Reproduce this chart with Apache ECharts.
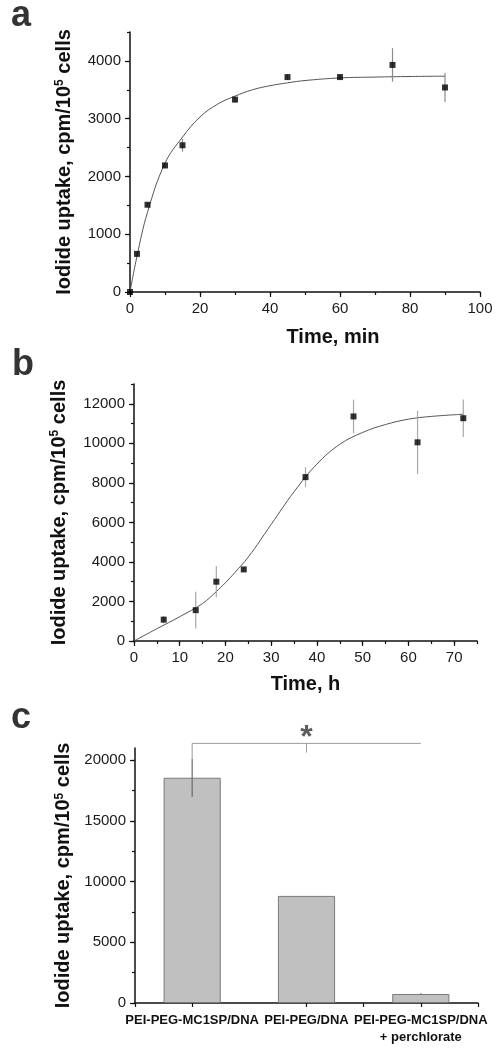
<!DOCTYPE html>
<html>
<head>
<meta charset="utf-8">
<script src="https://cdn.jsdelivr.net/npm/echarts@6/dist/echarts.min.js"></script>
<style>
html,body{margin:0;padding:0;background:#fff;}
#chart{width:503px;height:1049px;}
</style>
</head>
<body>
<div id="chart"></div>
<script>
// ---------- Panel a ----------
const aTime = [0, 2, 5, 10, 15, 30, 45, 60, 75, 90];
const aUptake = [0, 660, 1510, 2190, 2540, 3330, 3720, 3720, 3930, 3540];
const aErr = [0, 40, 40, 50, 110, 50, 40, 40, 290, 250];
const aFitTime = [0, 2, 5, 10, 15, 20, 25, 30, 35, 40, 45, 50, 60, 70, 80, 90];
const aFitUptake = [0, 620, 1380, 2230, 2680, 3030, 3250, 3390, 3500, 3570, 3620, 3660, 3705, 3720, 3730, 3735];
const aXTicks = [0, 20, 40, 60, 80, 100];
const aXMinor = [0, 10, 20, 30, 40, 50, 60, 70, 80, 90, 100];
const aYTicks = [0, 1000, 2000, 3000, 4000];
const aYMinor = [0, 500, 1000, 1500, 2000, 2500, 3000, 3500, 4000, 4500];

// ---------- Panel b ----------
const bTime = [6.5, 13.5, 18, 24, 37.5, 48, 62, 72];
const bUptake = [1080, 1560, 3000, 3620, 8290, 11360, 10050, 11270];
const bErr = [180, 930, 790, 100, 500, 850, 1600, 950];
const bFitTime = [0, 5, 10, 15, 18, 20, 22, 25, 30, 35, 40, 45, 50, 55, 60, 65, 72];
const bFitUptake = [0, 620, 1230, 1900, 2500, 2950, 3450, 4250, 5900, 7550, 8950, 9950, 10550, 10950, 11220, 11360, 11470];
const bXTicks = [0, 10, 20, 30, 40, 50, 60, 70];
const bXMinor = [0, 5, 10, 15, 20, 25, 30, 35, 40, 45, 50, 55, 60, 65, 70, 75];
const bYTicks = [0, 2000, 4000, 6000, 8000, 10000, 12000];
const bYMinor = [0, 1000, 2000, 3000, 4000, 5000, 6000, 7000, 8000, 9000, 10000, 11000, 12000, 13000];

// ---------- Panel c ----------
const cCategories = ['PEI-PEG-MC1SP/DNA', 'PEI-PEG/DNA', 'PEI-PEG-MC1SP/DNA\n+ perchlorate'];
const cUptake = [18550, 8820, 740];
const cErr = [1560, 0, 60];
const cYTicks = [0, 5000, 10000, 15000, 20000];
const cYMinor = [0, 2500, 5000, 7500, 10000, 12500, 15000, 17500, 20000];
const cBracketLevel = 21380;   // significance bracket height
const cBracketMidTick = 20620; // lower end of middle tick
const cStarLevel = 21800;      // asterisk position

const FONT = '"Liberation Sans", Arial, Helvetica, sans-serif';
const yName = 'Iodide uptake, cpm/10{sup|5} cells';
const nameStyle = {
  fontSize: 20, fontWeight: 'bold', color: '#111', fontFamily: FONT,
  rich: { sup: { fontSize: 12, fontWeight: 'bold', color: '#111', fontFamily: FONT, verticalAlign: 'top', lineHeight: 12 } }
};
const lineStyleAxis = { color: '#111', width: 1.5 };
const tickLabel = { fontSize: 15, color: '#1a1a1a', fontFamily: FONT };
const plain = v => String(v);

function mainValueAxis(gridIndex, pos, max, ticks, extra) {
  return Object.assign({
    type: 'value', gridIndex, position: pos, min: 0, max: max,
    axisLine: { show: true, onZero: false, lineStyle: lineStyleAxis },
    axisTick: { show: true, inside: false, length: 5, customValues: ticks, lineStyle: { color: '#111', width: 1.2 } },
    axisLabel: Object.assign({ show: true, customValues: ticks, margin: 9, formatter: plain }, tickLabel),
    splitLine: { show: false }, minorTick: { show: false }
  }, extra || {});
}
function minorValueAxis(gridIndex, pos, max, ticks) {
  return {
    type: 'value', gridIndex, position: pos, min: 0, max: max,
    axisLine: { show: false },
    axisTick: { show: true, inside: false, length: 3, customValues: ticks, lineStyle: { color: '#111', width: 1.2 } },
    axisLabel: { show: false }, splitLine: { show: false }
  };
}
function errorRender(color) {
  return function (params, api) {
    const x = api.value(0), y = api.value(1), e = api.value(2);
    if (!e) return null;
    const p1 = api.coord([x, y - e]);
    const p2 = api.coord([x, y + e]);
    return { type: 'line', shape: { x1: p1[0], y1: p1[1], x2: p2[0], y2: p2[1] }, style: { stroke: color, lineWidth: 1.2 } };
  };
}

const chart = echarts.init(document.getElementById('chart'), null, { renderer: 'canvas' });
const option = {
  backgroundColor: '#fff',
  animation: false,
  graphic: [
    { type: 'text', left: 11, top: -2, style: { text: 'a', font: 'bold 36px ' + FONT, fill: '#333' } },
    { type: 'text', left: 12, top: 347, style: { text: 'b', font: 'bold 36px ' + FONT, fill: '#333' } },
    { type: 'text', left: 11, top: 700, style: { text: 'c', font: 'bold 36px ' + FONT, fill: '#333' } }
  ],
  grid: [
    { left: 130, top: 32, width: 350, height: 260 },
    { left: 134, top: 384, width: 343, height: 257 },
    { left: 135, top: 748, width: 343, height: 255 }
  ],
  xAxis: [
    mainValueAxis(0, 'bottom', 100, aXTicks, { name: 'Time, min', nameLocation: 'middle', nameGap: 35,
      nameTextStyle: { fontSize: 20, fontWeight: 'bold', color: '#111', fontFamily: FONT, padding: [0, 0, 0, 56] } }),
    minorValueAxis(0, 'bottom', 100, aXMinor),
    mainValueAxis(1, 'bottom', 75, bXTicks, { name: 'Time, h', nameLocation: 'middle', nameGap: 33,
      nameTextStyle: { fontSize: 20, fontWeight: 'bold', color: '#111', fontFamily: FONT } }),
    minorValueAxis(1, 'bottom', 75, bXMinor),
    {
      type: 'category', gridIndex: 2, position: 'bottom', data: cCategories,
      axisLine: { show: true, onZero: false, lineStyle: lineStyleAxis },
      axisTick: { show: true, alignWithLabel: true, length: 4, lineStyle: { color: '#111', width: 1.2 } },
      axisLabel: { show: true, interval: 0, margin: 9, fontSize: 13, fontWeight: 'bold', color: '#111', fontFamily: FONT, lineHeight: 17 },
      splitLine: { show: false }
    },
    {
      type: 'category', gridIndex: 2, position: 'bottom', data: cCategories,
      axisLine: { show: false },
      axisTick: { show: true, length: 4, lineStyle: { color: '#111', width: 1.2 } },
      axisLabel: { show: false }, splitLine: { show: false }
    }
  ],
  yAxis: [
    mainValueAxis(0, 'left', 4500, aYTicks, { name: yName, nameLocation: 'middle', nameGap: 56, nameTextStyle: nameStyle }),
    minorValueAxis(0, 'left', 4500, aYMinor),
    mainValueAxis(1, 'left', 13000, bYTicks, { name: yName, nameLocation: 'middle', nameGap: 65, nameTextStyle: nameStyle }),
    minorValueAxis(1, 'left', 13000, bYMinor),
    mainValueAxis(2, 'left', 21000, cYTicks, { name: yName, nameLocation: 'middle', nameGap: 59, nameTextStyle: nameStyle }),
    minorValueAxis(2, 'left', 21000, cYMinor)
  ],
  series: [
    // Panel a
    { type: 'line', xAxisIndex: 0, yAxisIndex: 0, data: aFitTime.map((t, i) => [t, aFitUptake[i]]),
      smooth: 0.4, symbol: 'none', lineStyle: { color: '#555', width: 1 }, z: 2 },
    { type: 'custom', xAxisIndex: 0, yAxisIndex: 0, renderItem: errorRender('#8a8a8a'),
      data: aTime.map((t, i) => [t, aUptake[i], aErr[i]]), encode: { x: 0, y: 1 }, z: 3 },
    { type: 'scatter', xAxisIndex: 0, yAxisIndex: 0, data: aTime.map((t, i) => [t, aUptake[i]]),
      symbol: 'rect', symbolSize: 6, itemStyle: { color: '#000' }, z: 4, clip: false },
    // Panel b
    { type: 'line', xAxisIndex: 2, yAxisIndex: 2, data: bFitTime.map((t, i) => [t, bFitUptake[i]]),
      smooth: 0.4, symbol: 'none', lineStyle: { color: '#555', width: 1 }, z: 2 },
    { type: 'custom', xAxisIndex: 2, yAxisIndex: 2, renderItem: errorRender('#a8a8a8'),
      data: bTime.map((t, i) => [t, bUptake[i], bErr[i]]), encode: { x: 0, y: 1 }, z: 3 },
    { type: 'scatter', xAxisIndex: 2, yAxisIndex: 2, data: bTime.map((t, i) => [t, bUptake[i]]),
      symbol: 'rect', symbolSize: 6, itemStyle: { color: '#000' }, z: 4, clip: false },
    // Panel c
    { type: 'bar', xAxisIndex: 4, yAxisIndex: 4, data: cUptake, barWidth: '50%',
      itemStyle: { color: '#c0c0c0', borderColor: '#7a7a7a', borderWidth: 1 }, z: 2 },
    { type: 'custom', xAxisIndex: 4, yAxisIndex: 4, renderItem: errorRender('#6a6a6a'),
      data: cUptake.map((v, i) => [i, v, cErr[i]]), encode: { x: 0, y: 1 }, z: 3 },
    { type: 'line', xAxisIndex: 4, yAxisIndex: 4, clip: false, symbol: 'none', z: 3,
      lineStyle: { color: '#9a9a9a', width: 1 },
      data: [[cCategories[0], cUptake[0] + cErr[0]], [cCategories[0], cBracketLevel], [cCategories[2], cBracketLevel]] },
    { type: 'line', xAxisIndex: 4, yAxisIndex: 4, clip: false, symbol: 'none', z: 3,
      lineStyle: { color: '#9a9a9a', width: 1 },
      data: [[cCategories[1], cBracketLevel], [cCategories[1], cBracketMidTick]] },
    { type: 'scatter', xAxisIndex: 4, yAxisIndex: 4, clip: false, symbol: 'circle', symbolSize: 1, z: 5,
      itemStyle: { color: 'rgba(0,0,0,0)' },
      label: { show: true, position: 'inside', formatter: '*', fontSize: 32, fontWeight: 'bold', color: '#333', fontFamily: FONT },
      data: [[cCategories[1], cStarLevel]] }
  ]
};
chart.setOption(option);
</script>
</body>
</html>
